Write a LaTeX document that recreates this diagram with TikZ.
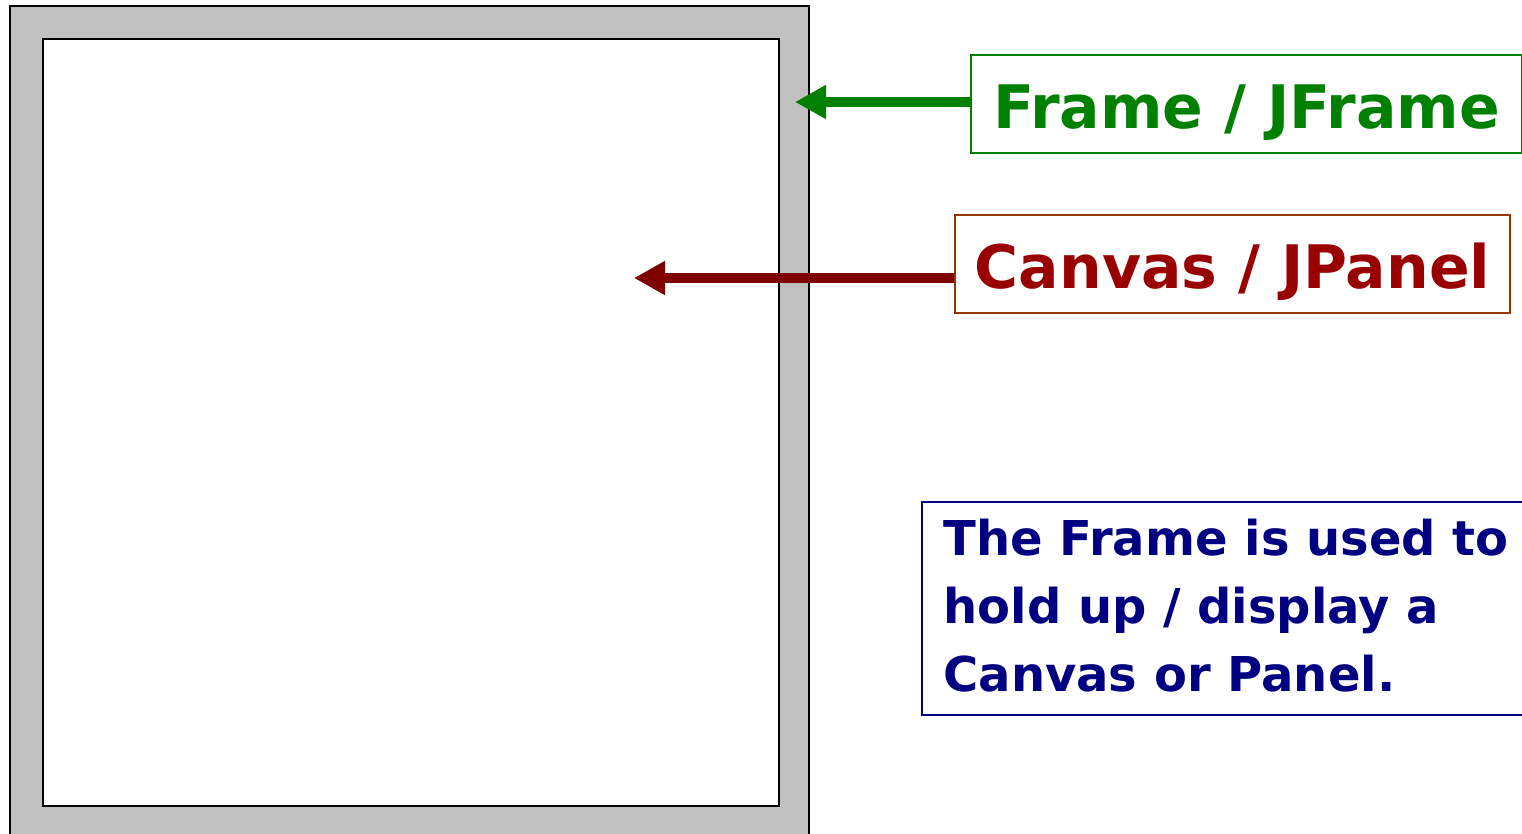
\documentclass[tikz,border=0pt]{standalone}
\usepackage{fontspec}
\setmainfont{DejaVu Sans}
\usetikzlibrary{arrows.meta}
\definecolor{framegray}{RGB}{192,192,192}
\definecolor{fgreen}{RGB}{0,128,0}
\definecolor{credtext}{RGB}{153,0,0}
\definecolor{credbox}{RGB}{153,51,0}
\definecolor{credarrow}{RGB}{128,0,0}
\definecolor{navyblue}{RGB}{0,0,128}
\begin{document}
\begin{tikzpicture}[x=0.5pt,y=-0.5pt,
  labelbox/.style={draw, line width=1pt, inner sep=0pt, anchor=north west, text height=25pt, text depth=0pt, font=\bfseries\fontsize{30}{36}\selectfont},
  pointer/.style={line width=5pt, -{Triangle[length=15.5pt,width=16pt]}}]
\useasboundingbox (0,0) rectangle (1522,834);
% frame
\fill[framegray] (10,6) rectangle (809,834);
\draw[line width=1pt] (10,834) -- (10,6) -- (809,6) -- (809,834);
\node[draw, line width=1pt, fill=white, minimum width=368pt, minimum height=383.5pt, inner sep=0pt, anchor=north west] (canvas) at (42,38) {};
% labels
\node[labelbox, draw=fgreen, text=fgreen, minimum width=275.5pt, minimum height=49pt] (fbox) at (970,54) {Frame / JFrame};
\node[labelbox, draw=credbox, text=credtext, minimum width=277.5pt, minimum height=49pt] (cbox) at (954,214) {Canvas / JPanel};
\coordinate (ftip) at (795,102);
\coordinate (ctip) at (634,278);
\draw[pointer, fgreen] (fbox.west |- ftip) -- (ftip);
\draw[pointer, credarrow] (cbox.west |- ctip) -- (ctip);
% description
\draw[navyblue, line width=1pt] (1530,502) -- (922,502) -- (922,715) -- (1530,715);
\node[anchor=north west, inner sep=0pt, text=navyblue, align=left, font=\bfseries\fontsize{24}{34}\selectfont] (desc) at (943,519) {The Frame is used to\\hold up / display a\\Canvas or Panel.};
\end{tikzpicture}
\end{document}
